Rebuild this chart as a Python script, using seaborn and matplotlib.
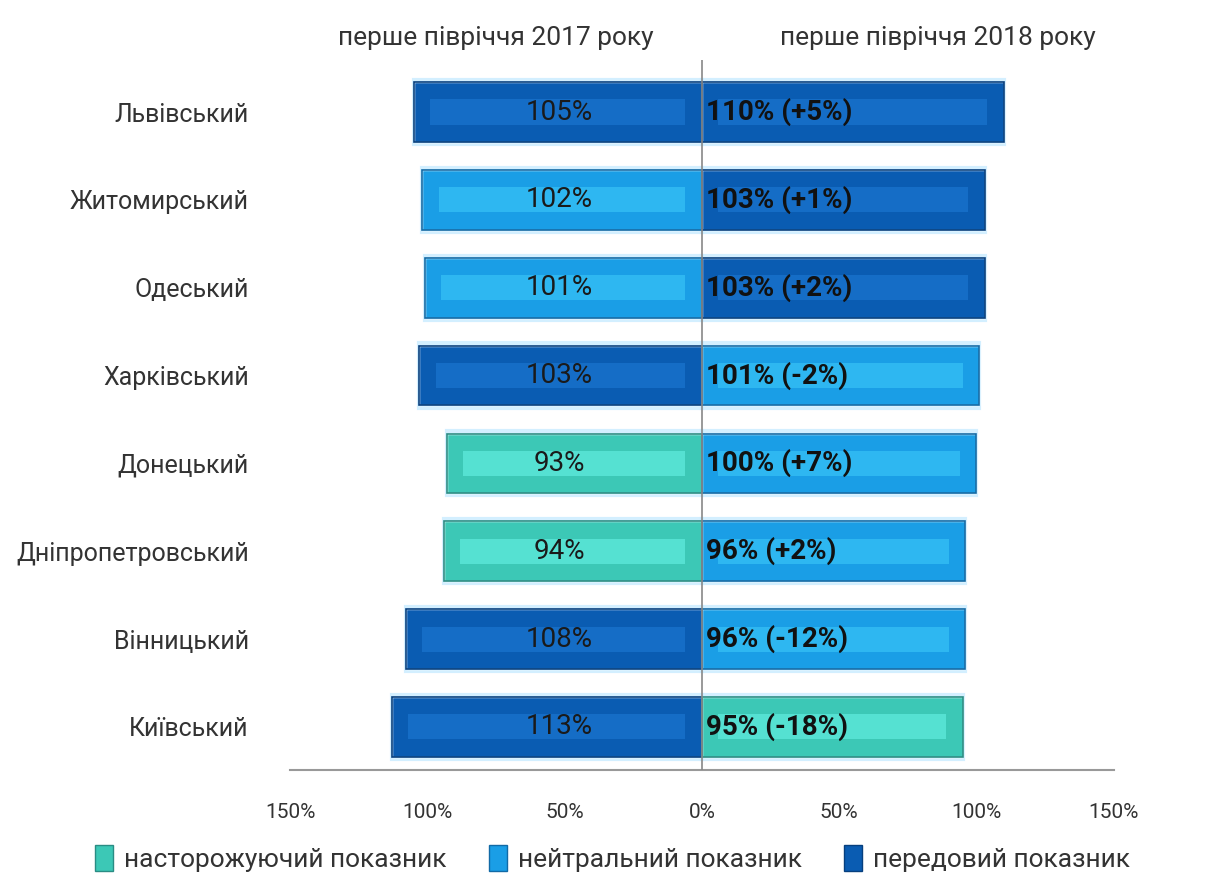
import numpy as np
import pandas as pd
import matplotlib
matplotlib.use("Agg")
import matplotlib.pyplot as plt
import seaborn as sns
from matplotlib.patches import Patch

# дані
regions = ["Львівський", "Житомирський", "Одеський", "Харківський",
           "Донецький", "Дніпропетровський", "Вінницький", "Київський"]
val_2017 = [105, 102, 101, 103, 93, 94, 108, 113]
val_2018 = [110, 103, 103, 101, 100, 96, 96, 95]
delta = [5, 1, 2, -2, 7, 2, -12, -18]
cat_2017 = ["передовий", "нейтральний", "нейтральний", "передовий",
            "насторожуючий", "насторожуючий", "передовий", "передовий"]
cat_2018 = ["передовий", "передовий", "передовий", "нейтральний",
            "нейтральний", "нейтральний", "нейтральний", "насторожуючий"]
categories = ["насторожуючий", "нейтральний", "передовий"]
ticks = [-150, -100, -50, 0, 50, 100, 150]

palette = {"насторожуючий": "#3cc8b6", "нейтральний": "#1a9ee6", "передовий": "#0a5cb2"}
edge = {"насторожуючий": "#2a8c84", "нейтральний": "#116aa6", "передовий": "#063f7e"}
light = {"насторожуючий": "#66f2e6", "нейтральний": "#3cc8fa", "передовий": "#1d7ad4"}

df = pd.DataFrame({"region": regions, "left": [-v for v in val_2017], "right": val_2018,
                   "c17": cat_2017, "c18": cat_2018})

sns.set_style("white")
plt.rcParams["font.family"] = ["Roboto", "DejaVu Sans"]

fig = plt.figure(figsize=(12.25, 8.85), dpi=100)
ax = fig.add_axes([0.237, 0.13, 0.672, 0.802])

w = 0.68
sns.barplot(data=df, x="left", y="region", hue="c17", palette=palette, dodge=False,
            legend=False, width=w, orient="h", saturation=1, ax=ax, zorder=2)
sns.barplot(data=df, x="right", y="region", hue="c18", palette=palette, dodge=False,
            legend=False, width=w, orient="h", saturation=1, ax=ax, zorder=2)

# обводка та світла смуга (імітація об'єму)
for i in range(len(regions)):
    for x, c in ((df["left"][i], cat_2017[i]), (df["right"][i], cat_2018[i])):
        ax.barh(i, x, height=w + 0.05, color="none", edgecolor="#c8ecff",
                linewidth=3, alpha=0.8, zorder=1)
        ax.barh(i, x, height=w, color="none", edgecolor=edge[c], linewidth=1.2, zorder=3)
        s = 1 if x > 0 else -1
        ax.barh(i, x - s * 12, left=s * 6, height=w * 0.42, color=light[c],
                alpha=0.6, linewidth=0, zorder=2.5)

for i in range(len(regions)):
    ax.text(-52, i, f"{val_2017[i]}%", ha="center", va="center",
            fontsize=20, color="#1a1a1a", zorder=4)
    ax.text(1.5, i, f"{val_2018[i]}% ({delta[i]:+d}%)", ha="left", va="center",
            fontsize=20, fontweight="bold", color="#111111", zorder=4)

ax.axvline(0, color="#888888", linewidth=1.2, zorder=5)
ax.set_xlim(-150, 150)
ax.set_ylim(7.49, -0.59)
ax.set_xticks(ticks)
ax.set_xticklabels([f"{abs(t)}%" for t in ticks], fontsize=15, color="#333333")
ax.tick_params(axis="x", length=0, pad=24)
ax.tick_params(axis="y", length=0, pad=30, labelsize=18)
for lab in ax.get_yticklabels():
    lab.set_color("#333333")
ax.set_xlabel("")
ax.set_ylabel("")
for side in ["top", "right", "left"]:
    ax.spines[side].set_visible(False)
ax.spines["bottom"].set_color("#999999")
ax.spines["bottom"].set_linewidth(1.5)

ax.text(-75, -0.84, "перше півріччя 2017 року", ha="center", va="center",
        fontsize=19, color="#333333")
ax.text(86, -0.84, "перше півріччя 2018 року", ha="center", va="center",
        fontsize=19, color="#333333")

handles = [Patch(facecolor=palette[c], edgecolor=edge[c]) for c in categories]
labels = [f"{c} показник" for c in categories]
fig.legend(handles, labels, loc="lower center", bbox_to_anchor=(0.5, -0.012), ncol=3,
           frameon=False, fontsize=19, handlelength=0.7, handleheight=1.1,
           handletextpad=0.4, columnspacing=1.6, labelcolor="#333333")

fig.savefig("out.png", dpi=100)
